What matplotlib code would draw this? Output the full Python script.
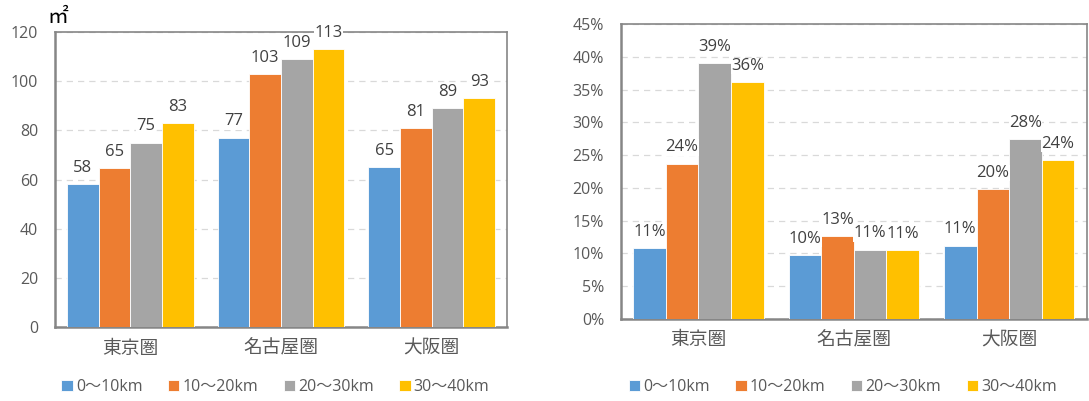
import matplotlib.pyplot as plt
import numpy as np

plt.rcParams['font.family'] = ['Open Sans', 'Noto Sans CJK JP', 'DejaVu Sans']

regions = ["東京圏", "名古屋圏", "大阪圏"]
series = ["0〜10km", "10〜20km", "20〜30km", "30〜40km"]
colors = ["#5b9bd5", "#ed7d31", "#a5a5a5", "#ffc000"]

# floor area (m2)
area = [
    [58, 77, 65],
    [64.5, 103, 81],
    [75, 109, 89],
    [83, 113, 93],
]
area_labels = [
    ["58", "77", "65"],
    ["65", "103", "81"],
    ["75", "109", "89"],
    ["83", "113", "93"],
]

# share (%)
share = [
    [10.8, 9.7, 11.2],
    [23.7, 12.6, 19.8],
    [39.0, 10.6, 27.4],
    [36.1, 10.5, 24.2],
]
share_labels = [
    ["11%", "10%", "11%"],
    ["24%", "13%", "20%"],
    ["39%", "11%", "28%"],
    ["36%", "11%", "24%"],
]

fig = plt.figure(figsize=(10.89, 4.01), dpi=100)
ax1 = fig.add_axes([0.0505, 0.1845, 0.4151, 0.7355])
ax2 = fig.add_axes([0.570, 0.2045, 0.428, 0.7355])

x = np.arange(len(regions))
w = 0.21
tick_col = "#595959"
lab_col = "#404040"


def draw(ax, vals, labels, ymax, step, fmt):
    handles = []
    for i, (v, lab, c) in enumerate(zip(vals, labels, colors)):
        pos = x + (i - 1.5) * w
        b = ax.bar(pos, v, w, color=c, edgecolor="white", linewidth=0.6, zorder=3, label=series[i])
        handles.append(b)
        for p, vv, t in zip(pos, v, lab):
            ax.annotate(t, (p, vv), xytext=(0, 6), textcoords="offset points",
                        ha="center", va="bottom", fontsize=12, color=lab_col, zorder=5,
                        bbox=dict(facecolor="white", edgecolor="none", pad=0.3),
                        annotation_clip=False)
    ax.set_xlim(-0.5, 2.5)
    ax.set_ylim(0, ymax)
    ticks = np.arange(0, ymax + step / 2, step)
    ax.set_yticks(ticks)
    ax.set_yticklabels([fmt(t) for t in ticks], fontsize=11.5, color=tick_col)
    ax.set_xticks(x)
    ax.set_xticklabels(regions, fontsize=13.5, color=tick_col)
    ax.tick_params(axis="y", length=0, pad=12)
    ax.tick_params(axis="x", length=0, pad=9)
    ax.yaxis.grid(True, color="#d9d9d9", linestyle=(0, (5, 4)), linewidth=0.9, zorder=0)
    ax.set_axisbelow(True)
    for s in ax.spines.values():
        s.set_color("#868686")
        s.set_linewidth(1.2)
    ax.spines["left"].set_linewidth(1.8)
    ax.spines["bottom"].set_linewidth(1.8)
    return handles


h1 = draw(ax1, area, area_labels, 120, 20, lambda t: f"{int(t)}")
h2 = draw(ax2, share, share_labels, 45, 5, lambda t: f"{int(t)}%")

ax1.text(-0.017, 1.015, "㎡", transform=ax1.transAxes, fontsize=15, color="black",
         ha="left", va="bottom", family="Noto Sans CJK JP")

fig.legend(h1, series, loc="center", bbox_to_anchor=(0.253, 0.035), ncol=4,
           frameon=False, fontsize=11.5, handlelength=0.7, handleheight=0.7,
           handletextpad=0.2, columnspacing=1.6, labelcolor=tick_col)
fig.legend(h2, series, loc="center", bbox_to_anchor=(0.774, 0.035), ncol=4,
           frameon=False, fontsize=11.5, handlelength=0.7, handleheight=0.7,
           handletextpad=0.2, columnspacing=1.6, labelcolor=tick_col)

fig.savefig("out.png", dpi=100)
